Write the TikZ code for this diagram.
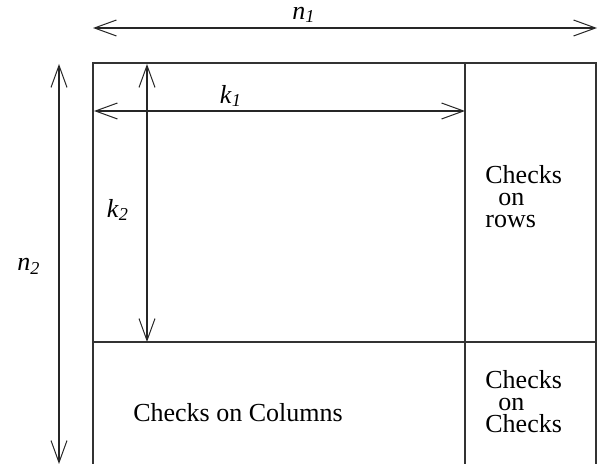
\documentclass[tikz,border=0pt]{standalone}
\usepackage{fontspec}
\setmainfont{Liberation Serif}
\usetikzlibrary{arrows.meta}
\begin{document}
\begin{tikzpicture}[x=0.5pt,y=-0.5pt,
  line/.style={line width=0.7pt, draw=black!80},
  dim/.style={line width=0.6pt, draw=black!85, {Straight Barb[length=11pt,width=8pt,line width=0.5pt]}-{Straight Barb[length=11pt,width=8pt,line width=0.5pt]}},
  lab/.style={font=\fontsize{13}{11}\selectfont, inner sep=0pt},
  blk/.style={font=\fontsize{13}{11}\selectfont, align=left, inner sep=0pt, anchor=west}]
\useasboundingbox (0,0) rectangle (606,464);
% frame corners
\coordinate (TL) at (93,63);
\coordinate (TR) at (596,63);
\coordinate (BL) at (93,464);
\coordinate (BR) at (596,464);
\coordinate (DT) at (465,63);
\coordinate (DB) at (465,464);
\coordinate (ML) at (93,342);
\coordinate (MR) at (596,342);
\draw[line] (BL) -- (TL) -- (TR) -- (BR);
\draw[line] (DT) -- (DB);
\draw[line] (ML) -- (MR);
% dimension arrows
\coordinate (n1a) at (93,28);
\coordinate (n1b) at (597,28);
\draw[dim] (n1a) -- (n1b);
\coordinate (k1a) at (94,111);
\coordinate (k1b) at (465,111);
\draw[dim] (k1a) -- (k1b);
\coordinate (k2a) at (147,64);
\coordinate (k2b) at (147,342);
\draw[dim] (k2a) -- (k2b);
\coordinate (n2a) at (59,64);
\coordinate (n2b) at (59,464);
\draw[dim] (n2a) -- (n2b);
% labels
\node[lab] (n1) at (304,15) {\textit{n}\textsubscript{\textit{1}}};
\node[lab] (k1) at (231,96) {\textit{k}\textsubscript{\textit{1}}};
\node[lab] (k2) at (118,210) {\textit{k}\textsubscript{\textit{2}}};
\node[lab] (n2) at (29,266) {\textit{n}\textsubscript{\textit{2}}};
\node[blk] (rows) at (485,197) {Checks\\\hspace*{6.5pt}on\\rows};
\node[blk] (cc) at (485,402) {Checks\\\hspace*{6.5pt}on\\Checks};
\node[lab] (cols) at (238,413) {Checks on Columns};
\end{tikzpicture}
\end{document}
